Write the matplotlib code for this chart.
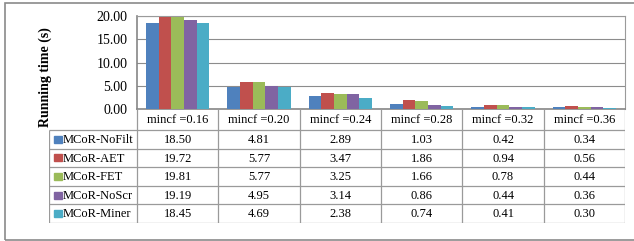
import matplotlib.pyplot as plt
import matplotlib.patches as mpatches
import numpy as np

plt.rcParams['font.family'] = ['Liberation Serif', 'DejaVu Serif']

# dati
categories = ['mincf =0.16', 'mincf =0.20', 'mincf =0.24', 'mincf =0.28', 'mincf =0.32', 'mincf =0.36']
series_names = ['MCoR-NoFilt', 'MCoR-AET', 'MCoR-FET', 'MCoR-NoScr', 'MCoR-Miner']
nofilt = [18.50, 4.81, 2.89, 1.03, 0.42, 0.34]
aet = [19.72, 5.77, 3.47, 1.86, 0.94, 0.56]
fet = [19.81, 5.77, 3.25, 1.66, 0.78, 0.44]
noscr = [19.19, 4.95, 3.14, 0.86, 0.44, 0.36]
miner = [18.45, 4.69, 2.38, 0.74, 0.41, 0.30]
yticks = [0, 5, 10, 15, 20]

values = [nofilt, aet, fet, noscr, miner]
colors = ['#4F81BD', '#C0504D', '#9BBB59', '#8064A2', '#4BACC6']

W, H = 634, 241
fig = plt.figure(figsize=(W / 100, H / 100), dpi=100)

# bordo esterno
fig.patches.append(mpatches.Rectangle((4.5 / W, 1.5 / H), 640 / W, (238 - 1.5) / H,
                                      transform=fig.transFigure, fill=False,
                                      edgecolor='#8a8a8a', linewidth=1.2))

# grafico a barre
x0, x1, ytop, ybot = 137, 625, 16, 109
ax = fig.add_axes([x0 / W, 1 - ybot / H, (x1 - x0) / W, (ybot - ytop) / H])
n = len(series_names)
bw = 0.78 / n
x = np.arange(len(categories))
for i in range(n):
    ax.bar(x + (i - (n - 1) / 2) * bw, values[i], width=bw, color=colors[i], zorder=3)

ax.set_xlim(-0.5, len(categories) - 0.5)
ax.set_ylim(0, 20)
ax.set_yticks(yticks)
ax.set_yticklabels([f'{v:.2f}' for v in yticks], fontsize=10)
ax.set_xticks([])
ax.tick_params(axis='y', length=0, pad=7)
ax.grid(axis='y', color='#8c8c8c', linewidth=0.8, zorder=0)
for s in ['top', 'right']:
    ax.spines[s].set_color('#9a9a9a')
    ax.spines[s].set_linewidth(0.8)
for s in ['left', 'bottom']:
    ax.spines[s].set_color('#868686')
    ax.spines[s].set_linewidth(1.2)

fig.text(45 / W, 1 - 77 / H, 'Running time (s)', rotation=90, ha='center', va='center',
         fontsize=10, fontweight='bold')

# tabella dati
tleft, tbot = 49, 223
tax = fig.add_axes([tleft / W, 1 - tbot / H, (x1 - tleft) / W, (tbot - ybot) / H])
legw = (x0 - tleft) / ((x1 - x0) / len(categories))
hdr = 21 / 18.6
tax.set_xlim(-0.5 - legw, len(categories) - 0.5)
tax.set_ylim(hdr + n, 0)
tax.axis('off')

lc = '#9a9a9a'
# righe orizzontali
tax.hlines(hdr, -0.5 - legw, len(categories) - 0.5, color=lc, lw=0.9)
for r in range(1, n + 1):
    tax.hlines(hdr + r, -0.5 - legw, len(categories) - 0.5, color=lc, lw=0.9)
# linee verticali
tax.vlines(-0.5 - legw, hdr, hdr + n, color=lc, lw=0.9)
for c in range(len(categories) + 1):
    tax.vlines(c - 0.5, 0, hdr + n, color=lc, lw=0.9)

for c, cat in enumerate(categories):
    tax.text(c, hdr / 2 + 0.05, cat, ha='center', va='center', fontsize=9)
for r in range(n):
    yc = hdr + r + 0.5
    tax.add_patch(mpatches.Rectangle((-0.5 - legw + 0.06, yc - 0.19), 0.1, 0.38,
                                     color=colors[r], clip_on=False))
    tax.text(-0.5 - legw + 0.17, yc + 0.04, series_names[r], ha='left', va='center', fontsize=9)
    for c in range(len(categories)):
        tax.text(c, yc + 0.04, f'{values[r][c]:.2f}', ha='center', va='center', fontsize=9)

plt.savefig('out.png', dpi=100)
plt.close()
